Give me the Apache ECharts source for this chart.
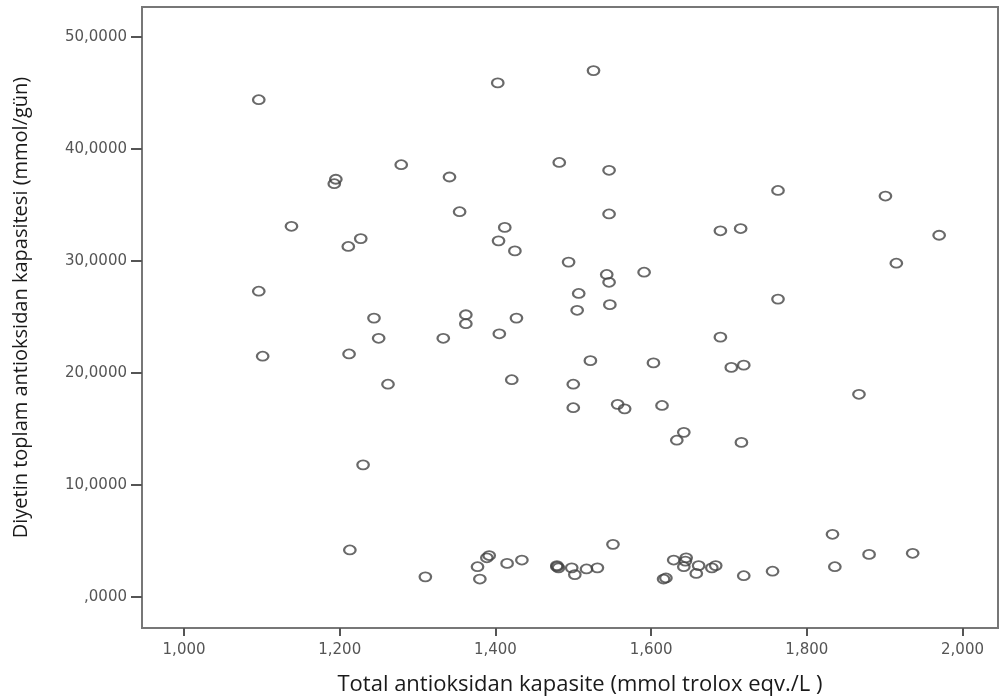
<!DOCTYPE html>
<html>
<head>
<meta charset="utf-8">
<script src="https://cdn.jsdelivr.net/npm/echarts@6/dist/echarts.min.js"></script>
<style>
  html, body { margin: 0; padding: 0; background: #fff; }
  #chart { width: 1001px; height: 699px; }
</style>
</head>
<body>
<div id="chart"></div>
<script>
// total antioxidant capacity (mmol trolox eqv./L)
const capacity = [
  1.096, 1.279, 1.195, 1.193, 1.341, 1.354, 1.138, 1.403, 1.526, 1.482,
  1.546, 1.546, 1.412, 1.689, 1.715, 1.763, 1.901, 1.970, 1.915, 1.763,
  1.689, 1.211, 1.227, 1.096, 1.244, 1.250, 1.333, 1.362, 1.362, 1.101,
  1.212, 1.262, 1.230, 1.404, 1.425, 1.494, 1.543, 1.546, 1.591, 1.507,
  1.505, 1.547, 1.427, 1.405, 1.703, 1.719, 1.522, 1.603, 1.421, 1.500,
  1.500, 1.557, 1.566, 1.614, 1.642, 1.633, 1.867, 1.716,
  1.213, 1.310, 1.377, 1.380, 1.389, 1.392, 1.415, 1.434, 1.479, 1.481,
  1.479, 1.498, 1.502, 1.517, 1.531, 1.551, 1.616, 1.619, 1.629, 1.645,
  1.644, 1.642, 1.661, 1.658, 1.678, 1.683, 1.719, 1.756, 1.833, 1.836,
  1.880, 1.936
];
// dietary total antioxidant capacity (mmol/day)
const dietary = [
  44.4, 38.6, 37.3, 36.9, 37.5, 34.4, 33.1, 45.9, 47.0, 38.8,
  38.1, 34.2, 33.0, 32.7, 32.9, 36.3, 35.8, 32.3, 29.8, 26.6,
  23.2, 31.3, 32.0, 27.3, 24.9, 23.1, 23.1, 25.2, 24.4, 21.5,
  21.7, 19.0, 11.8, 31.8, 30.9, 29.9, 28.8, 28.1, 29.0, 27.1,
  25.6, 26.1, 24.9, 23.5, 20.5, 20.7, 21.1, 20.9, 19.4, 19.0,
  16.9, 17.2, 16.8, 17.1, 14.7, 14.0, 18.1, 13.8,
  4.2, 1.8, 2.7, 1.6, 3.5, 3.7, 3.0, 3.3, 2.8, 2.6,
  2.7, 2.6, 2.0, 2.5, 2.6, 4.7, 1.6, 1.7, 3.3, 3.5,
  3.2, 2.7, 2.8, 2.1, 2.6, 2.8, 1.9, 2.3, 5.6, 2.7,
  3.8, 3.9
];
const xTicks = [1.0, 1.2, 1.4, 1.6, 1.8, 2.0];
const yTicks = [0, 10, 20, 30, 40, 50];

const points = capacity.map((x, i) => [x, dietary[i]]);

const chart = echarts.init(document.getElementById('chart'));

chart.setOption({
  animation: false,
  grid: {
    left: 142,
    top: 7,
    right: 3,
    bottom: 71,
    outerBoundsMode: 'none',
    show: true,
    borderColor: '#777',
    borderWidth: 2,
  },
  xAxis: {
    type: 'value',
    min: 0.946,
    max: 2.0456,
    name: 'Total antioksidan kapasite (mmol trolox eqv./L )',
    nameLocation: 'middle',
    nameGap: 46,
    nameTextStyle: {
      fontFamily: 'Open Sans',
      fontSize: 22,
      color: '#1a1a1a',
      padding: [0, 0, 0, 20],
    },
    axisLine: { show: false, onZero: false },
    splitLine: { show: false },
    axisTick: {
      show: true,
      length: 8,
      customValues: xTicks,
      lineStyle: { color: '#555', width: 2 },
    },
    axisLabel: {
      customValues: xTicks,
      margin: 15,
      fontFamily: 'DejaVu Sans',
      fontSize: 15,
      color: '#555',
      formatter: (v) => v.toFixed(3).replace('.', ','),
    },
  },
  yAxis: {
    type: 'value',
    min: -2.77,
    max: 52.68,
    name: 'Diyetin toplam antioksidan kapasitesi (mmol/gün)',
    nameLocation: 'middle',
    nameGap: 111,
    nameTextStyle: {
      fontFamily: 'Open Sans',
      fontSize: 20,
      color: '#1a1a1a',
      padding: [0, 0, 0, 20],
    },
    axisLine: { show: false, onZero: false },
    splitLine: { show: false },
    axisTick: {
      show: true,
      length: 11,
      customValues: yTicks,
      lineStyle: { color: '#555', width: 2 },
    },
    axisLabel: {
      customValues: yTicks,
      margin: 15,
      fontFamily: 'DejaVu Sans',
      fontSize: 15,
      color: '#555',
      formatter: (v) => (v === 0 ? ',0000' : v.toFixed(4).replace('.', ',')),
    },
  },
  series: [
    {
      type: 'scatter',
      data: points,
      symbol: 'circle',
      symbolSize: [11.5, 9],
      itemStyle: {
        color: 'rgba(0,0,0,0)',
        borderColor: '#444',
        borderWidth: 2,
      },
    },
  ],
});
</script>
</body>
</html>
